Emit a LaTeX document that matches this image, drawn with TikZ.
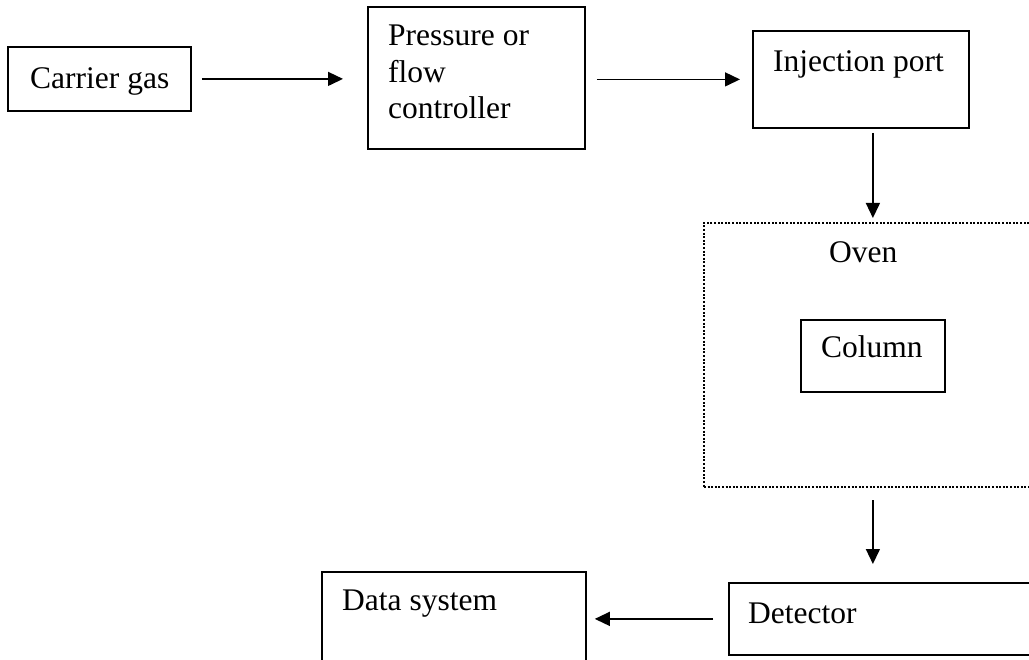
\documentclass[tikz,border=0pt]{standalone}
\usepackage{fontspec}
\setmainfont{Liberation Serif}
\usetikzlibrary{arrows.meta}
\tikzset{
	box/.style={draw, line width=1.8pt, anchor=north west, inner sep=0pt},
	ovenbox/.style={draw, line width=2pt, dash pattern=on 2pt off 1.6pt, anchor=north west, inner sep=0pt},
	txt/.style={anchor=base west, inner sep=0pt, align=left},
	flow/.style={line width=1.4pt, -{Triangle[length=15pt,width=14pt]}}
}
\begin{document}
\begin{tikzpicture}[x=1pt, y=-1pt, font=\fontsize{31.5}{36.5}\selectfont]
	\useasboundingbox (0,0) rectangle (1029,660);
	\clip (0,0) rectangle (1029,660);
	% boxes
	\node[box, minimum width=183pt, minimum height=64pt] (carrier) at (7,46) {};
	\node[box, minimum width=217pt, minimum height=142pt] (press) at (367,6) {};
	\node[box, minimum width=216pt, minimum height=97pt] (inj) at (752,30) {};
	\node[ovenbox, minimum width=360pt, minimum height=264pt] (oven) at (703,222) {};
	\node[box, minimum width=144pt, minimum height=72pt] (col) at (800,319) {};
	\node[box, minimum width=340pt, minimum height=72pt] (det) at (728,582) {};
	\node[box, minimum width=264pt, minimum height=120pt] (data) at (321,571) {};
	% texts (base = last line)
	\node[txt] (carriertxt) at (30,89) {Carrier gas};
	\node[txt] (presstxt) at (388,119) {Pressure or\\flow\\controller};
	\node[txt] (injtxt) at (773,72) {Injection port};
	\node[txt] (oventxt) at (829,263) {Oven};
	\node[txt] (coltxt) at (821,358) {Column};
	\node[txt] (dettxt) at (748,623) {Detector};
	\node[txt] (datatxt) at (342,610) {Data system};
	% arrows
	\draw[flow, shorten <=10pt, shorten >=24pt] (carrier.east) -- (press.west |- carrier.east);
	\draw[flow, shorten <=11pt, shorten >=12pt] (press.east |- inj.west) -- (inj.west);
	\draw[flow, shorten <=4pt, shorten >=4pt] (inj.south -| col.north) -- (oven.north -| col.north);
	\draw[flow, shorten <=12pt, shorten >=18pt] (oven.south -| col.south) -- (det.north -| col.south);
	\draw[flow, shorten <=15pt, shorten >=8pt] (det.west) -- (data.east |- det.west);
\end{tikzpicture}
\end{document}
